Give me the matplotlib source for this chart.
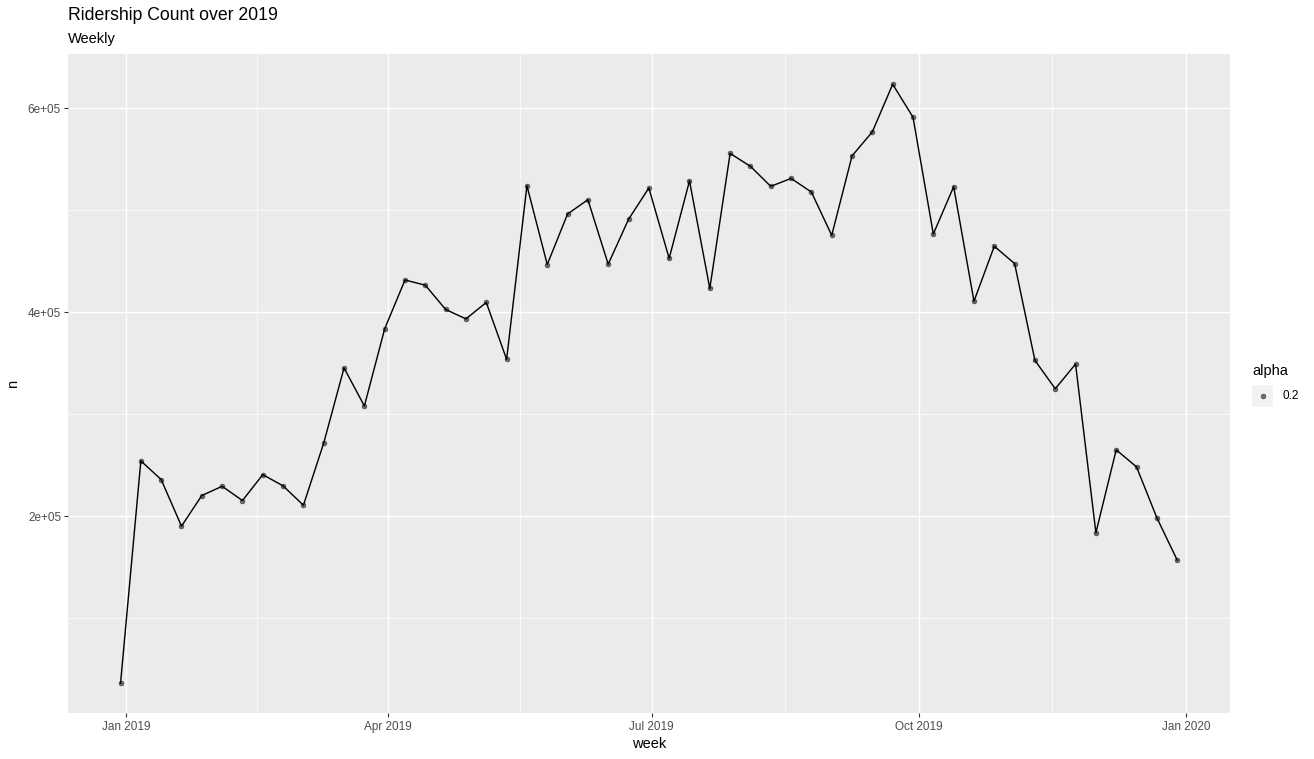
import matplotlib
matplotlib.use("Agg")
import matplotlib.pyplot as plt
import matplotlib.dates as mdates
import pandas as pd
import numpy as np

# ---- data ----
week_start = "2018-12-30"
n_weeks = 53
weeks = pd.date_range(week_start, periods=n_weeks, freq="7D")
counts = [
    36400, 254500, 236200, 190500, 220500, 229600, 215600, 241000, 230000, 211000,
    272000, 345600, 308300, 384000, 431800, 426700, 402900, 393700, 409800, 354000,
    524200, 447000, 496500, 510500, 447300, 491300, 522000, 453000, 529000, 423500,
    555900, 543200, 523600, 531400, 518000, 475600, 553500, 577100, 623700, 591400,
    476900, 523300, 411000, 464900, 447900, 353000, 325200, 349400, 184000, 265300,
    248600, 198700, 157300,
]
x_tick_dates = ["2019-01-01", "2019-04-01", "2019-07-01", "2019-10-01", "2020-01-01"]
x_tick_labels = ["Jan 2019", "Apr 2019", "Jul 2019", "Oct 2019", "Jan 2020"]
y_ticks = [200000, 400000, 600000]
y_tick_labels = ["2e+05", "4e+05", "6e+05"]
y_minor = [100000, 300000, 500000]
title = "Ridership Count over 2019"
subtitle = "Weekly"
legend_title = "alpha"
legend_label = "0.2"

# ---- figure ----
W, H, DPI = 1314, 759, 72
S = 4.0 / 3.0  # ggplot points rendered at 96 dpi
fig = plt.figure(figsize=(W / DPI, H / DPI), dpi=DPI)
plt.rcParams["font.family"] = ["Liberation Sans", "DejaVu Sans"]

def fx(px):
    return px / W

def fy(py):
    return 1 - py / H

left, right, top, bottom = 67.7, 1230, 54.3, 713.3
ax = fig.add_axes([fx(left), fy(bottom), fx(right - left), (bottom - top) / H])
ax.set_facecolor("#EBEBEB")
for s in ax.spines.values():
    s.set_visible(False)

xnum = mdates.date2num(weeks.to_pydatetime())
ax.plot(xnum, counts, linestyle="none", marker="o", markersize=5.0,
        markerfacecolor="black", markeredgecolor="black", markeredgewidth=0.5,
        alpha=0.55, zorder=3)
ax.plot(xnum, counts, color="black", linewidth=1.42, zorder=4)

# limits with 5% expansion
xr = xnum.max() - xnum.min()
ax.set_xlim(xnum.min() - 0.05 * xr, xnum.max() + 0.05 * xr)
yr = max(counts) - min(counts)
ax.set_ylim(min(counts) - 0.05 * yr, max(counts) + 0.05 * yr)

xt = mdates.date2num(pd.to_datetime(x_tick_dates).to_pydatetime())
ax.set_xticks(xt)
ax.set_xticklabels(x_tick_labels)
ax.set_yticks(y_ticks)
ax.set_yticklabels(y_tick_labels)

# grid lines
for v in xt:
    ax.axvline(v, color="white", linewidth=1.42, zorder=1)
for a, b in zip(xt[:-1], xt[1:]):
    ax.axvline((a + b) / 2, color="white", linewidth=0.71, zorder=1)
for v in y_ticks:
    ax.axhline(v, color="white", linewidth=1.42, zorder=1)
for v in y_minor:
    ax.axhline(v, color="white", linewidth=0.71, zorder=1)

ax.tick_params(axis="both", length=2.75 * S, width=1.1, color="#333333",
               labelcolor="#4D4D4D", labelsize=8.8 * S, pad=2.2 * S)
ax.tick_params(axis="x", pad=2.2 * S + 1.5)

# axis titles
fig.text(fx(649), fy(748.5), "week", ha="center", va="baseline", fontsize=11 * S, color="black")
fig.text(fx(13.5), fy(384), "n", ha="center", va="center", rotation=90, fontsize=11 * S, color="black")

# titles
fig.text(fx(67.7), fy(20.5), title, ha="left", va="baseline", fontsize=13.2 * S, color="black")
fig.text(fx(67.7), fy(43.0), subtitle, ha="left", va="baseline", fontsize=11 * S, color="black")

# legend
fig.text(fx(1252), fy(375), legend_title, ha="left", va="baseline", fontsize=11 * S, color="black")
lax = fig.add_axes([fx(1252), fy(406.5), fx(20.5), 22 / H])
lax.set_facecolor("#F2F2F2")
lax.set_xlim(0, 1)
lax.set_ylim(0, 1)
lax.set_xticks([])
lax.set_yticks([])
for s in lax.spines.values():
    s.set_visible(False)
lax.plot([0.55], [0.5], linestyle="none", marker="o", markersize=5.0,
         markerfacecolor="black", markeredgecolor="black", markeredgewidth=0.5, alpha=0.55)
fig.text(fx(1282.3), fy(396.3), legend_label, ha="left", va="center", fontsize=8.8 * S, color="black")

fig.savefig("out.png", dpi=DPI)
